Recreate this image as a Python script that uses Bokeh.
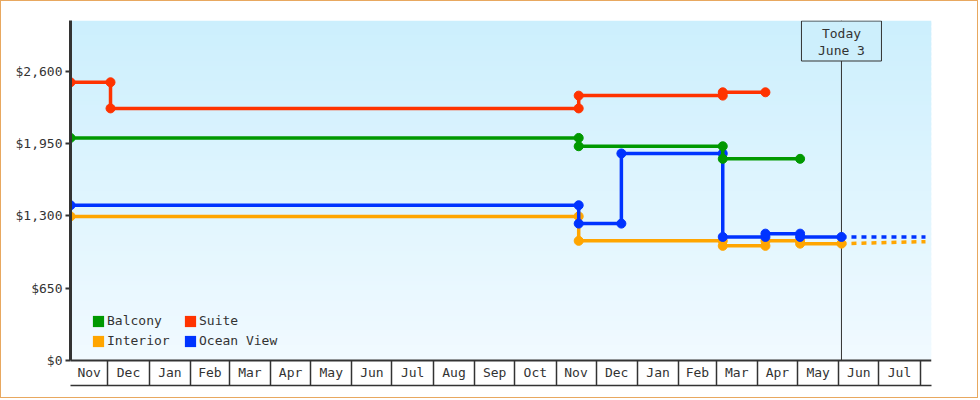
import numpy as np
import pandas as pd
from bokeh.plotting import figure
from bokeh.models import (Range1d, FixedTicker, CustomJSTickFormatter, NumeralTickFormatter,
                          LinearAxis, Legend, LegendItem)
from bokeh.core.properties import value
from bokeh.embed import file_html
from bokeh.resources import INLINE

# ---------------- data ----------------
range_start = "2023-11-03"
range_end = "2025-08-09 12:00"
today = "2025-06-03"
today_text = ["Today", "June 3"]

month_labels = ["Nov", "Dec", "Jan", "Feb", "Mar", "Apr", "May", "Jun", "Jul", "Aug", "Sep",
                "Oct", "Nov", "Dec", "Jan", "Feb", "Mar", "Apr", "May", "Jun", "Jul"]
first_month = "2023-11-01"

y_ticks = [0, 650, 1300, 1950, 2600]
y_max = 3055

suite_dates = ["2023-11-03", "2023-12-03", "2023-12-03", "2024-11-18", "2024-11-18",
               "2025-03-06", "2025-03-06", "2025-04-07"]
suite_prices = [2500, 2500, 2265, 2265, 2380, 2380, 2410, 2410]

balcony_dates = ["2023-11-03", "2024-11-18", "2024-11-18", "2025-03-06", "2025-03-06", "2025-05-03"]
balcony_prices = [2000, 2000, 1925, 1925, 1812, 1812]

ocean_dates = ["2023-11-03", "2024-11-18", "2024-11-18", "2024-12-20", "2024-12-20",
               "2025-03-06", "2025-03-06", "2025-04-07", "2025-04-07", "2025-05-03",
               "2025-05-03", "2025-06-03"]
ocean_prices = [1395, 1395, 1230, 1230, 1860, 1860, 1110, 1110, 1140, 1140, 1110, 1110]
ocean_proj_dates = ["2025-06-03", "2025-08-05"]
ocean_proj_prices = [1110, 1110]

interior_dates = ["2023-11-03", "2024-11-18", "2024-11-18", "2025-03-06", "2025-03-06",
                  "2025-04-07", "2025-04-07", "2025-05-03", "2025-05-03", "2025-06-03"]
interior_prices = [1295, 1295, 1075, 1075, 1030, 1030, 1075, 1075, 1050, 1050]
interior_proj_dates = ["2025-06-03", "2025-08-05"]
interior_proj_prices = [1050, 1068]

series_names = ["Balcony", "Suite", "Interior", "Ocean View"]
series_colors = {"Balcony": "#009900", "Suite": "#ff3300",
                 "Interior": "#ffa500", "Ocean View": "#0033ff"}

# ---------------- helpers ----------------
t0 = pd.Timestamp(range_start)


def days(d):
    return (pd.Timestamp(d) - t0) / pd.Timedelta(days=1)


def days_list(ds):
    return [days(d) for d in ds]


x_end = days(range_end)
month_starts = pd.date_range(first_month, periods=len(month_labels) + 1, freq="MS")
boundaries = [days(m) for m in month_starts[1:]]
centers = []
for i in range(len(month_labels)):
    a = max(days(month_starts[i]), 0.0)
    b = days(month_starts[i + 1])
    centers.append((a + b) / 2.0)

FONT = "DejaVu Sans Mono"
INK = "#333333"
PLOT_H = 340.0          # height of the price area in pixels
BAND_H = 25.0           # height of the month band below it
px = y_max / PLOT_H     # data units per pixel (vertical)
y_min = -BAND_H * px

p = figure(width=978, height=398, output_backend="svg", toolbar_location=None,
           x_range=Range1d(0, x_end), y_range=Range1d(y_min, y_max),
           min_border_left=69, min_border_right=48, min_border_top=19, min_border_bottom=14)
p.styles = {"border": "1px solid #e8a860"}
p.outline_line_color = None
p.background_fill_color = "#ffffff"
p.border_fill_color = "#ffffff"
p.xgrid.visible = False
p.ygrid.visible = False

# background gradient (styling)
top_rgb = np.array([204, 239, 253])
bot_rgb = np.array([241, 250, 255])
n_bands = 68
edges = np.linspace(0, y_max, n_bands + 1)
band_cols = []
for i in range(n_bands):
    f = (i + 0.5) / n_bands
    c = bot_rgb + (top_rgb - bot_rgb) * f
    band_cols.append("#%02x%02x%02x" % tuple(int(round(v)) for v in c))
band_top = list(np.minimum(edges[1:] + (edges[1] - edges[0]) * 0.6, y_max))
p.quad(left=[0] * n_bands, right=[x_end] * n_bands, bottom=list(edges[:-1]), top=band_top,
       fill_color=band_cols, line_color=None)

# today line
td = days(today)
p.segment(x0=[td], y0=[0], x1=[td], y1=[y_max], line_color=INK, line_width=1)

# series
def draw(dates, prices, color):
    xs = days_list(dates)
    p.line(xs, prices, line_color=color, line_width=3.5)
    p.scatter(xs, prices, marker="circle", size=9, fill_color=color, line_color=color)


p.line(days_list(interior_proj_dates), interior_proj_prices, line_color=series_colors["Interior"],
       line_width=3.5, line_dash="5 5")
p.line(days_list(ocean_proj_dates), ocean_proj_prices, line_color=series_colors["Ocean View"],
       line_width=3.5, line_dash="5 5")
draw(interior_dates, interior_prices, series_colors["Interior"])
draw(ocean_dates, ocean_prices, series_colors["Ocean View"])
draw(balcony_dates, balcony_prices, series_colors["Balcony"])
draw(suite_dates, suite_prices, series_colors["Suite"])

# today box
p.rect(x=[td], y=[y_max - 20.5 * px], width=80, height=40, width_units="screen",
       height_units="screen", fill_color="#cdeffc", line_color=INK, line_width=1)
p.text(x=[td, td], y=[y_max - 12.7 * px, y_max - 30 * px], text=today_text,
       text_align="center", text_baseline="middle", text_font=value(FONT),
       text_font_size=value("13px"), text_color=INK)

# y axis
yax = p.yaxis[0]
yax.ticker = FixedTicker(ticks=y_ticks)
yax.formatter = NumeralTickFormatter(format="$0,0")
yax.bounds = (0, y_max)
yax.axis_line_width = 3
yax.axis_line_color = INK
yax.major_tick_out = 5
yax.major_tick_in = 0
yax.major_tick_line_width = 2
yax.major_tick_line_color = INK
yax.minor_tick_line_color = None
yax.major_label_text_font = FONT
yax.major_label_text_font_size = "13px"
yax.major_label_text_color = INK
yax.major_label_standoff = 3

# month axis, drawn at price 0
xax = p.xaxis[0]
xax.fixed_location = 0
xax.ticker = FixedTicker(ticks=centers, minor_ticks=boundaries)
xax.formatter = CustomJSTickFormatter(args=dict(keys=centers, names=month_labels), code="""
let best = 0, bd = Infinity;
for (let i = 0; i < keys.length; i++) {
  const d = Math.abs(keys[i] - tick);
  if (d < bd) { bd = d; best = i; }
}
return names[best];
""")
xax.axis_line_width = 2
xax.axis_line_color = INK
xax.major_tick_out = 0
xax.major_tick_in = 0
xax.major_tick_line_color = None
xax.minor_tick_out = int(BAND_H)
xax.minor_tick_in = 0
xax.minor_tick_line_color = INK
xax.minor_tick_line_width = 1.5
xax.major_label_text_font = FONT
xax.major_label_text_font_size = "13px"
xax.major_label_text_color = INK
xax.major_label_standoff = -21

# bottom rule of the month band
xax2 = LinearAxis(ticker=FixedTicker(ticks=[]), axis_line_color=INK, axis_line_width=1.5,
                  major_tick_line_color=None, minor_tick_line_color=None,
                  major_tick_out=0, minor_tick_out=0, major_label_standoff=0,
                  major_label_text_font_size="0px")
p.add_layout(xax2, "below")

# legend (two rows)
leg_r = {}
for name in series_names:
    leg_r[name] = p.quad(left=[np.nan], right=[np.nan], top=[np.nan], bottom=[np.nan],
                         fill_color=series_colors[name], line_color=None)


def make_legend(names, loc):
    lg = Legend(items=[LegendItem(label=n, renderers=[leg_r[n]]) for n in names],
                location=loc, orientation="horizontal", glyph_width=14, glyph_height=14,
                label_height=14, label_width=70, label_standoff=2, spacing=6, padding=0,
                margin=0, border_line_color=None, background_fill_alpha=0,
                label_text_font=FONT, label_text_font_size="13px", label_text_color=INK)
    p.add_layout(lg)


make_legend(series_names[:2], (21, 57))
make_legend(series_names[2:], (21, 37))

open("out.html", "w").write(file_html(p, INLINE))
